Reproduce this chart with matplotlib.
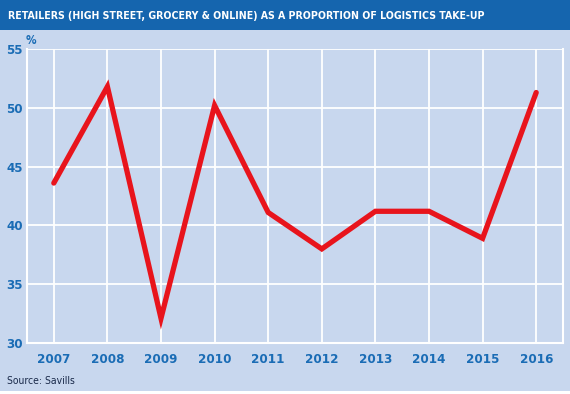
import matplotlib

matplotlib.use("Agg")
import matplotlib.pyplot as plt
from matplotlib.patches import Rectangle

plt.rcParams["font.family"] = ["DejaVu Sans"]
plt.rcParams["font.stretch"] = "condensed"

years = [2007, 2008, 2009, 2010, 2011, 2012, 2013, 2014, 2015, 2016]
share = [43.6, 51.8, 32.1, 50.2, 41.1, 38.0, 41.2, 41.2, 38.9, 51.3]
yticks = [30, 35, 40, 45, 50, 55]

title = "RETAILERS (HIGH STREET, GROCERY & ONLINE) AS A PROPORTION OF LOGISTICS TAKE-UP"
source = "Source: Savills"

bg = "#c8d7ee"
band = "#1565ae"
blue_txt = "#1a6cb5"
red = "#e8141c"

fig = plt.figure(figsize=(5.7, 3.94), dpi=100)
fig.patch.set_facecolor(bg)

# title band and thin white strip at bottom
fig.add_artist(Rectangle((0, 1 - 30 / 394), 1, 30 / 394, transform=fig.transFigure,
                         facecolor=band, edgecolor="none", zorder=0))
fig.add_artist(Rectangle((0, 0), 1, 3 / 394, transform=fig.transFigure,
                         facecolor="white", edgecolor="none", zorder=0))
fig.text(8 / 570, 1 - 16 / 394, title, color="white", fontsize=7.6, fontweight="bold",
         va="center", ha="left")

ax = fig.add_axes([27 / 570, 1 - 343 / 394, 536 / 570, 294 / 394])
ax.set_facecolor(bg)
ax.plot(years, share, color=red, lw=3.8, solid_joinstyle="miter", solid_capstyle="round",
        zorder=3)

ax.set_xlim(2006.5, 2016.5)
ax.set_ylim(30, 55)
ax.set_xticks(years)
ax.set_yticks(yticks)
ax.grid(True, color="white", lw=1.3)
ax.set_axisbelow(True)
for side in ["left", "bottom", "right", "top"]:
    ax.spines[side].set_color("white")
    ax.spines[side].set_linewidth(1.5)
ax.spines["top"].set_visible(False)
ax.tick_params(length=0, colors=blue_txt, labelsize=9.5)
ax.tick_params(axis="x", pad=7)
ax.tick_params(axis="y", pad=3)
for lab in ax.get_xticklabels() + ax.get_yticklabels():
    lab.set_fontweight("bold")

fig.text(26 / 570, 1 - 40 / 394, "%", color=blue_txt, fontsize=8.5, fontweight="bold",
         va="center", ha="left")
fig.text(7 / 570, 1 - 381 / 394, source, color="#1a2a4a", fontsize=7.5, va="center",
         ha="left")

fig.savefig("out.png", dpi=100, facecolor=fig.get_facecolor())
